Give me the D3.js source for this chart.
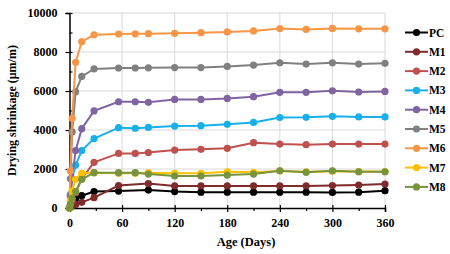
<!DOCTYPE html>
<html>
<head>
<meta charset="utf-8">
<script src="https://cdn.jsdelivr.net/npm/d3@7"></script>
<style>
  body { margin: 0; background: #fff; }
  text { font-family: "Liberation Serif", "Times New Roman", serif; font-weight: bold; }
</style>
</head>
<body>
<div id="chart"></div>
<script>
// Ages (days) at which shrinkage was measured
const days = [0, 1, 3, 7, 14, 28, 56, 75, 90, 120, 150, 180, 210, 240, 270, 300, 330, 360];

// Drying shrinkage (µm/m) per mix; null = not measured
const PC = [0, 100, 250, 480, 630, 840, 870, null, 920, 840, 810, 810, 810, 810, 810, 800, 810, 890];
const M1 = [0, 50, 100, 180, 290, 530, 1150, null, 1250, 1130, 1130, 1130, 1130, 1130, 1130, 1150, 1180, 1230];
const M2 = [0, 150, 400, 800, 1500, 2340, 2800, 2800, 2840, 2970, 3010, 3060, 3350, 3280, 3250, 3280, 3280, 3280];
const M3 = [0, 700, 1500, 2200, 2950, 3560, 4120, 4090, 4130, 4200, 4220, 4290, 4390, 4640, 4650, 4700, 4670, 4670];
const M4 = [0, 600, 1500, 2950, 4070, 4980, 5450, 5450, 5420, 5570, 5570, 5620, 5710, 5930, 5930, 6010, 5950, 5980];
const M5 = [0, 1500, 3900, 5960, 6750, 7130, 7180, 7180, 7190, 7200, 7200, 7260, 7330, 7450, 7380, 7450, 7380, 7420];
const M6 = [0, 1900, 4600, 7470, 8530, 8880, 8920, 8930, 8940, 8960, 8990, 9030, 9080, 9200, 9160, 9210, 9190, 9190];
const M7 = [0, 400, 870, 1470, 1780, 1810, 1780, 1780, 1810, 1780, 1780, 1860, 1830, 1900, 1860, 1890, 1870, 1870];
const M8 = [0, 200, 500, 840, 1470, 1810, 1810, 1810, 1740, 1640, 1640, 1690, 1740, 1910, 1830, 1910, 1860, 1860];

const seriesNames = ["PC", "M1", "M2", "M3", "M4", "M5", "M6", "M7", "M8"];
const seriesValues = [PC, M1, M2, M3, M4, M5, M6, M7, M8];
const colors = ["#000000", "#7f2b2b", "#c0504d", "#17b0ea", "#8064a2", "#808080", "#f79646", "#ffc000", "#77933c"];

const xTicks = [0, 60, 120, 180, 240, 300, 360];
const yTicks = [0, 2000, 4000, 6000, 8000, 10000];

const W = 450, H = 254;
const plot = { left: 69.5, right: 385, top: 13, bottom: 208 };

const svg = d3.select("#chart").append("svg")
  .attr("width", W)
  .attr("height", H);

const x = d3.scaleLinear().domain([0, 360]).range([plot.left, plot.right]);
const y = d3.scaleLinear().domain([0, 10000]).range([plot.bottom, plot.top]);

// gridlines
svg.append("g")
  .selectAll("line.hg")
  .data(yTicks.slice(1))
  .enter().append("line")
  .attr("x1", plot.left).attr("x2", plot.right)
  .attr("y1", d => y(d)).attr("y2", d => y(d))
  .attr("stroke", "#d9d9d9").attr("stroke-width", 1);

svg.append("g")
  .selectAll("line.vg")
  .data(xTicks.slice(1))
  .enter().append("line")
  .attr("y1", plot.top).attr("y2", plot.bottom)
  .attr("x1", d => x(d)).attr("x2", d => x(d))
  .attr("stroke", "#d9d9d9").attr("stroke-width", 1);

// X axis: major ticks every 60, minor every 30
const xAxis = svg.append("g")
  .attr("transform", `translate(0,${plot.bottom})`)
  .call(d3.axisBottom(x).tickValues(xTicks).tickSize(4).tickPadding(6).tickFormat(d3.format("d")));
xAxis.select(".domain").attr("stroke", "#000").attr("stroke-width", 1.5);
xAxis.selectAll("text").attr("font-size", 12).attr("fill", "#000");
xAxis.selectAll(".tick line").attr("y1", -3).attr("stroke-width", 1.2);

svg.append("g")
  .attr("transform", `translate(0,${plot.bottom})`)
  .call(d3.axisBottom(x).tickValues(d3.range(30, 360, 60)).tickSize(3).tickFormat(""))
  .call(g => g.select(".domain").remove())
  .selectAll(".tick line").attr("stroke-width", 1.2);

// Y axis: major ticks every 2000, minor every 1000
const yAxis = svg.append("g")
  .attr("transform", `translate(${plot.left},0)`)
  .call(d3.axisLeft(y).tickValues(yTicks).tickSize(4).tickPadding(8).tickFormat(d3.format("d")));
yAxis.select(".domain").attr("stroke", "#000").attr("stroke-width", 1.5);
yAxis.selectAll("text").attr("font-size", 12).attr("fill", "#000");
yAxis.selectAll(".tick line").attr("x1", 3).attr("stroke-width", 1.2);

svg.append("g")
  .attr("transform", `translate(${plot.left},0)`)
  .call(d3.axisRight(y).tickValues(d3.range(1000, 10000, 2000)).tickSize(3).tickFormat(""))
  .call(g => g.select(".domain").remove())
  .selectAll(".tick line").attr("stroke-width", 1.2);

// axis titles
svg.append("text")
  .attr("x", 246).attr("y", 246)
  .attr("text-anchor", "middle")
  .attr("font-size", 12.5)
  .text("Age (Days)");

svg.append("text")
  .attr("transform", `translate(16,${(plot.top + plot.bottom) / 2}) rotate(-90)`)
  .attr("text-anchor", "middle")
  .attr("font-size", 12)
  .text("Drying shrinkage (μm/m)");

// series
const line = d3.line()
  .defined(d => d.v !== null)
  .x(d => x(d.day))
  .y(d => y(d.v));

seriesNames.forEach((name, i) => {
  const pts = days.map((day, j) => ({ day: day, v: seriesValues[i][j] }));
  const g = svg.append("g");
  g.append("path")
    .datum(pts.filter(d => d.v !== null))
    .attr("d", line)
    .attr("fill", "none")
    .attr("stroke", colors[i])
    .attr("stroke-width", 2);
  g.selectAll("circle")
    .data(pts.filter(d => d.v !== null))
    .enter().append("circle")
    .attr("cx", d => x(d.day))
    .attr("cy", d => y(d.v))
    .attr("r", 3.6)
    .attr("fill", colors[i]);
});

// legend
const legend = svg.append("g").attr("transform", "translate(405,32.5)");
seriesNames.forEach((name, i) => {
  const row = legend.append("g").attr("transform", `translate(0,${i * 19.3})`);
  row.append("line")
    .attr("x1", 0).attr("x2", 23)
    .attr("stroke", colors[i]).attr("stroke-width", 2);
  row.append("circle")
    .attr("cx", 11.5).attr("r", 3.6)
    .attr("fill", colors[i]);
  row.append("text")
    .attr("x", 24).attr("y", 4)
    .attr("font-size", 11.5)
    .text(name);
});
</script>
</body>
</html>
